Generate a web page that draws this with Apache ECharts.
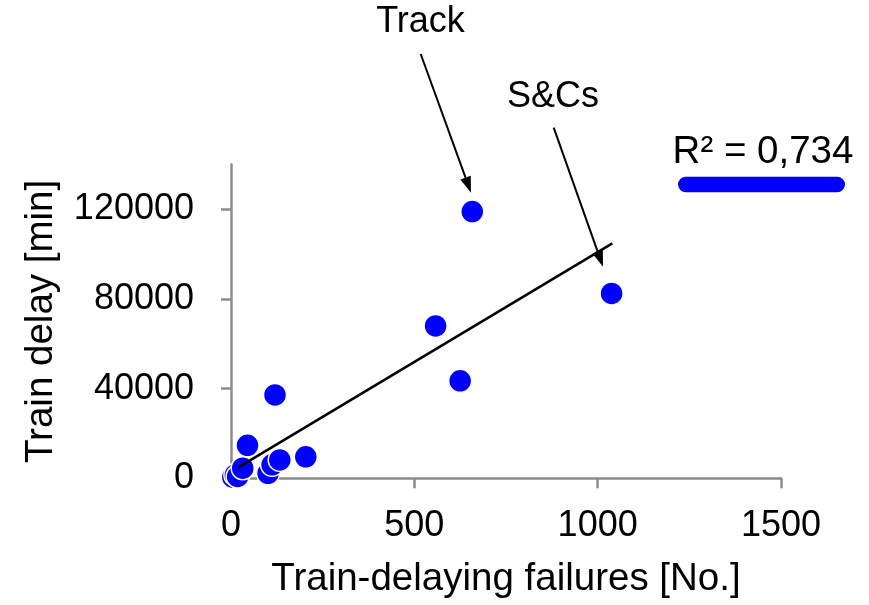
<!DOCTYPE html>
<html>
<head>
<meta charset="utf-8">
<script src="https://cdn.jsdelivr.net/npm/echarts@6/dist/echarts.min.js"></script>
<style>
  html, body { margin: 0; padding: 0; background: #fff; }
  #chart { width: 869px; height: 605px; }
</style>
</head>
<body>
<div id="chart"></div>
<script>
// Train-delaying failures per asset type vs. resulting train delay
const failures = [5, 12, 18, 32, 101, 112, 133, 204, 45, 120, 558, 625, 658, 1038];
const delays   = [500, 1500, 800, 4500, 2200, 6000, 8200, 9600, 14700, 37200, 68000, 43500, 119000, 82500];

// Linear trend line end points
const trendFailures = [20, 1040];
const trendDelays   = [4900, 104800];

// Axis ticks
const xTicks = [0, 500, 1000, 1500];
const yTicks = [0, 40000, 80000, 120000];

const fitLabel = 'R² = 0,734';
const xTitle = 'Train-delaying failures [No.]';
const yTitle = 'Train delay [min]';

const FONT = "'Liberation Sans', Arial, Helvetica, sans-serif";
const AXIS_GREY = '#8c8c8c';
const BLUE = '#0000ff';

const points = failures.map((f, i) => [f, delays[i]]);
const trend = trendFailures.map((f, i) => [f, trendDelays[i]]);

// Arrow (shaft + filled head) as graphic elements
function arrow(x1, y1, x2, y2) {
  const headLen = 16, headHalf = 5.5;
  const dx = x2 - x1, dy = y2 - y1;
  const len = Math.sqrt(dx * dx + dy * dy);
  const ux = dx / len, uy = dy / len;
  const bx = x2 - ux * headLen, by = y2 - uy * headLen;
  const px = -uy, py = ux;
  return [
    { type: 'line', shape: { x1: x1, y1: y1, x2: bx, y2: by },
      style: { stroke: '#000', lineWidth: 2 } },
    { type: 'polygon',
      shape: { points: [[x2, y2], [bx + px * headHalf, by + py * headHalf], [bx - px * headHalf, by - py * headHalf]] },
      style: { fill: '#000' } }
  ];
}

const plain = v => String(v);

const chart = echarts.init(document.getElementById('chart'), null, { renderer: 'canvas' });

const option = {
  animation: false,
  backgroundColor: '#fff',
  grid: { left: 231, right: 88, top: 164.5, bottom: 126.7, containLabel: false },
  xAxis: {
    type: 'value', min: 0, max: 1500, interval: 500,
    name: xTitle, nameLocation: 'middle', nameGap: 82,
    nameTextStyle: { fontSize: 38.5, color: '#000', fontFamily: FONT },
    axisLine: { show: true, onZero: false, lineStyle: { color: AXIS_GREY, width: 2.5 } },
    axisTick: { show: true, length: 10, customValues: xTicks, lineStyle: { color: AXIS_GREY, width: 2.5 } },
    axisLabel: { fontSize: 36, color: '#000', fontFamily: FONT, margin: 30, customValues: xTicks, formatter: plain },
    splitLine: { show: false }
  },
  yAxis: {
    type: 'value', min: 0, max: 140000, interval: 40000,
    name: yTitle, nameLocation: 'middle', nameGap: 170,
    nameTextStyle: { fontSize: 38.5, color: '#000', fontFamily: FONT },
    axisLine: { show: true, onZero: false, lineStyle: { color: AXIS_GREY, width: 2.5 } },
    axisTick: { show: true, length: 10, customValues: yTicks, lineStyle: { color: AXIS_GREY, width: 2.5 } },
    axisLabel: { fontSize: 36, color: '#000', fontFamily: FONT, margin: 37, customValues: yTicks, formatter: plain },
    splitLine: { show: false }
  },
  series: [
    {
      name: 'Failures vs delay', type: 'scatter', data: points,
      symbol: 'circle', symbolSize: 23,
      itemStyle: { color: BLUE, borderColor: '#fff', borderWidth: 1.5, opacity: 1 },
      z: 2
    },
    {
      name: fitLabel, type: 'line', data: trend,
      symbol: 'none', lineStyle: { color: '#000', width: 2.5 },
      z: 3
    }
  ],
  graphic: [
    { type: 'text', style: { text: 'Track', x: 420.5, y: 22, align: 'center', verticalAlign: 'middle',
        font: '36px ' + FONT, fill: '#000' } },
    { type: 'text', style: { text: 'S&Cs', x: 553, y: 96.7, align: 'center', verticalAlign: 'middle',
        font: '36px ' + FONT, fill: '#000' } },
    { type: 'text', style: { text: fitLabel, x: 763, y: 152, align: 'center', verticalAlign: 'middle',
        font: '38.5px ' + FONT, fill: '#000' } },
    { type: 'rect', shape: { x: 678, y: 176.7, width: 167, height: 15.6, r: 7.8 }, style: { fill: BLUE } }
  ].concat(arrow(420.7, 54, 471, 192.7), arrow(553.7, 127.7, 603, 266.7))
};

chart.setOption(option);
</script>
</body>
</html>
